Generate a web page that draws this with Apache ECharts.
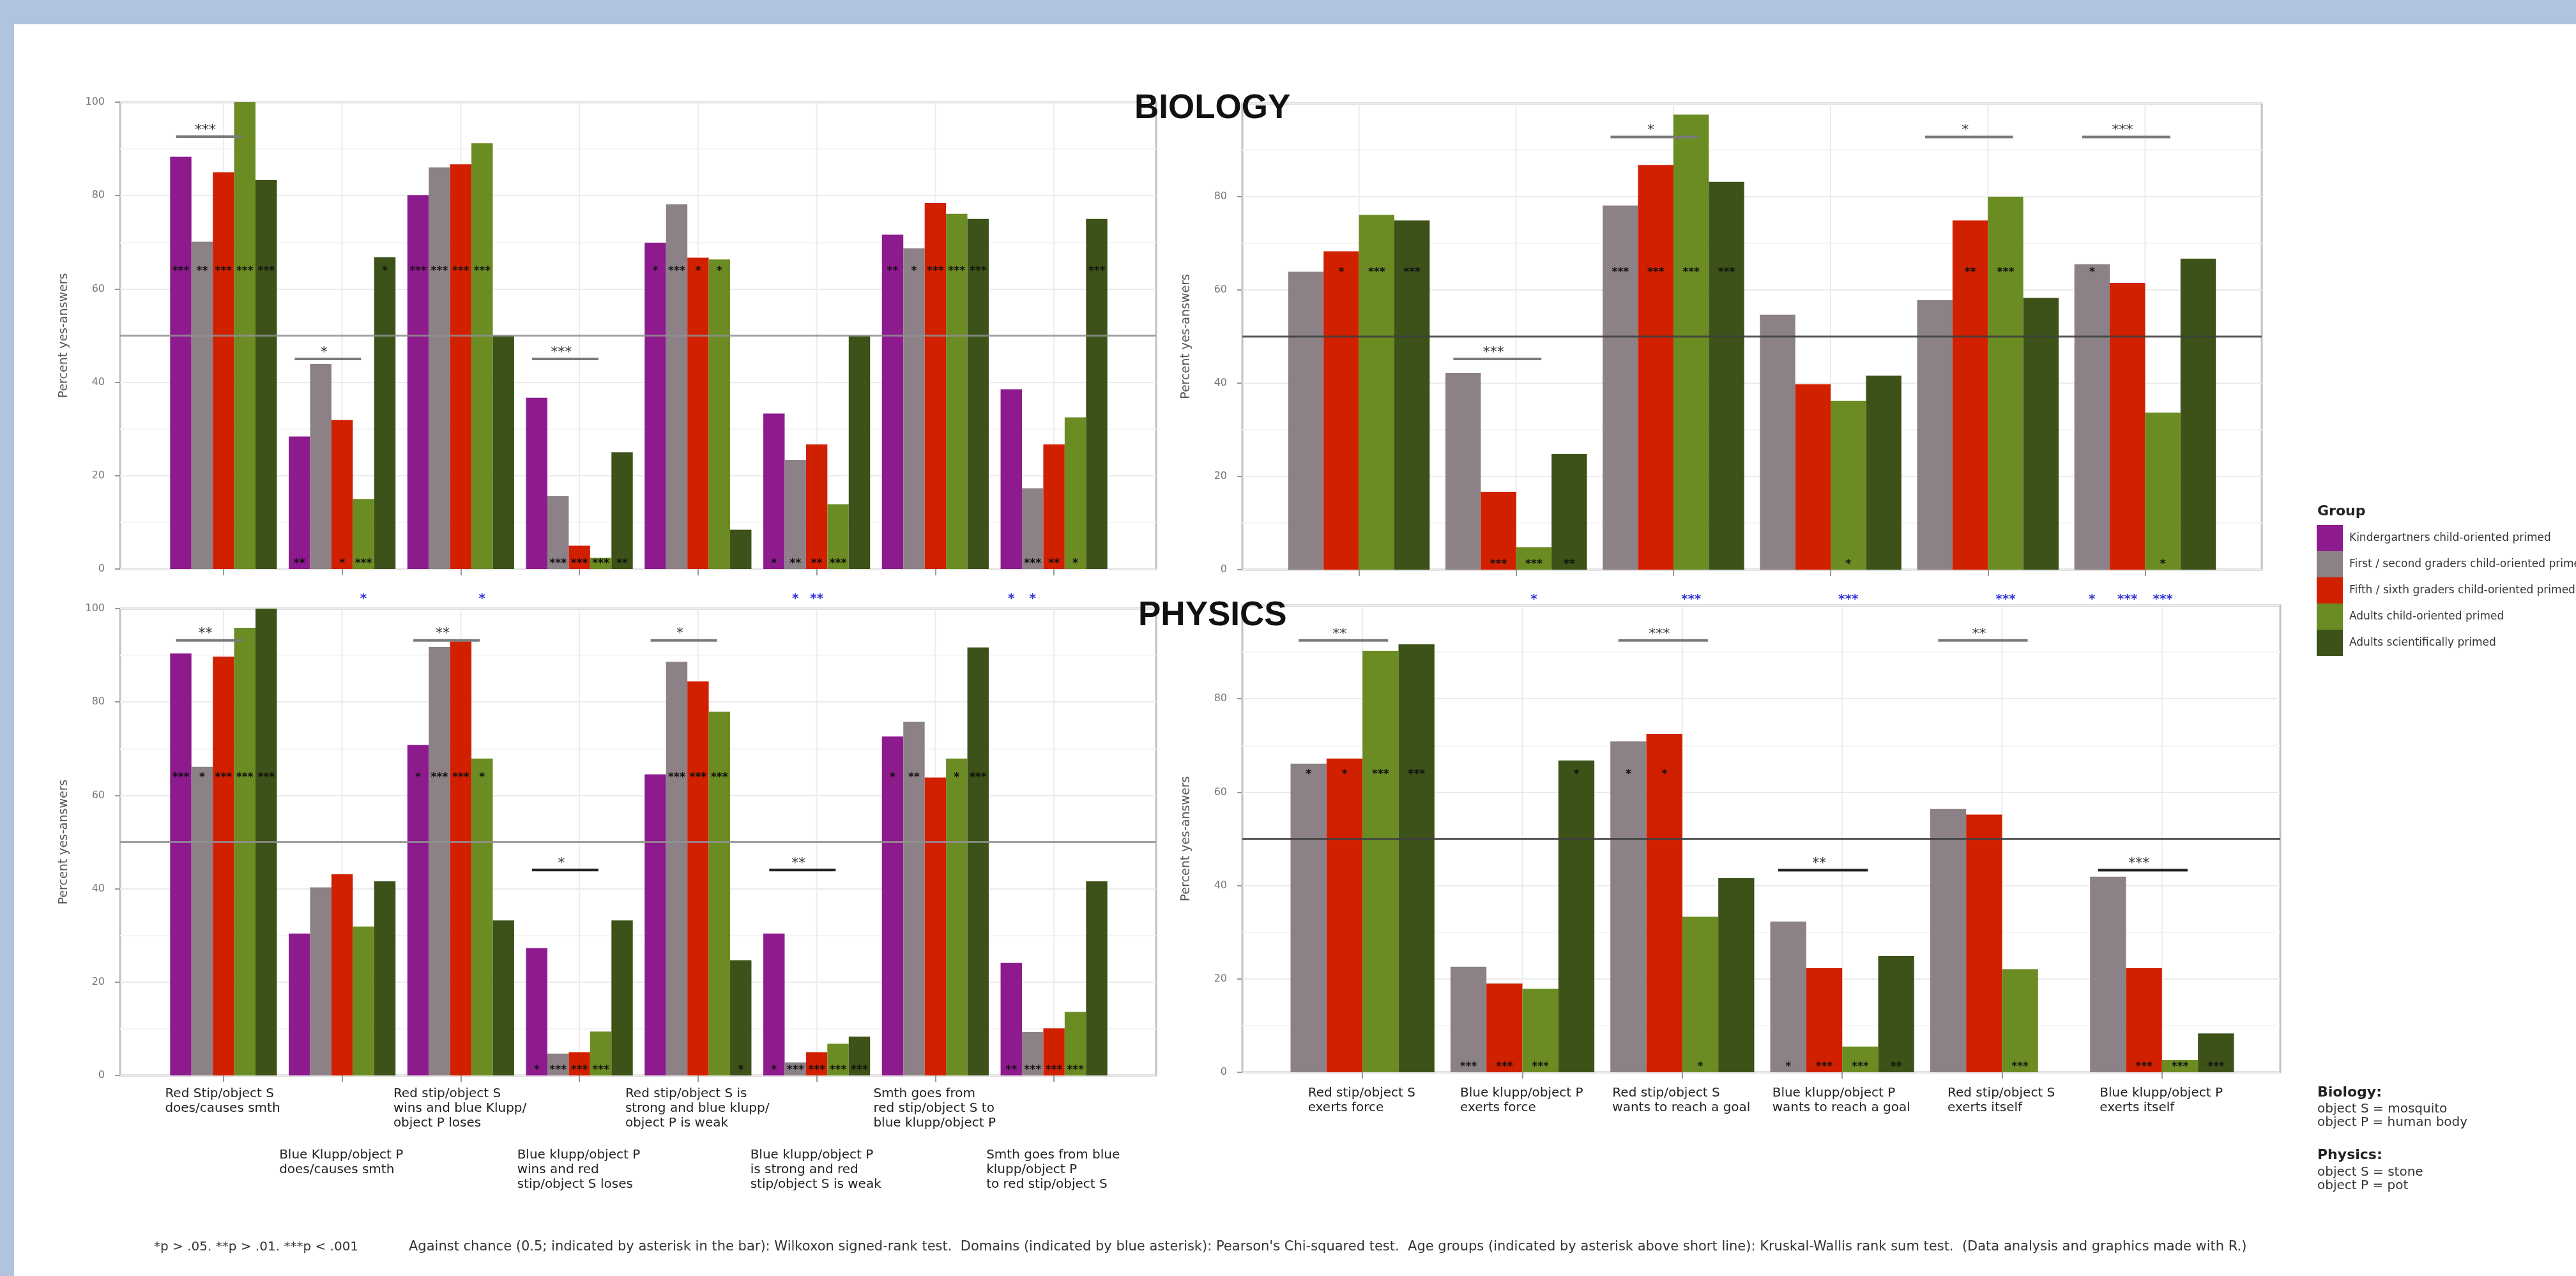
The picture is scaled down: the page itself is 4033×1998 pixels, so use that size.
<!DOCTYPE html>
<html>
<head>
<meta charset="utf-8">
<script src="https://cdn.jsdelivr.net/npm/echarts@6/dist/echarts.min.js"></script>
<style>
  html, body { margin: 0; padding: 0; background: #fff; overflow: hidden; }
  .band { position: absolute; background: #b0c4de; }
  #chart { position: absolute; left: 0; top: 0; width: 4033px; height: 1998px; z-index: 2; }
</style>
</head>
<body>
<div class="band" style="left:0;top:0;width:4033px;height:38px"></div>
<div class="band" style="left:0;top:0;width:22px;height:1998px"></div>
<div id="chart"></div>
<script>
// groups (legend order) and their colours
const groups = [
  'Kindergartners child-oriented primed',
  'First / second graders child-oriented primed',
  'Fifth / sixth graders child-oriented primed',
  'Adults child-oriented primed',
  'Adults scientifically primed',
]
const colors = ['#8e1b8e', '#8b8186', '#d12000', '#6b8c22', '#3c5218']

const leftCats = [
  'Red Stip/object S\ndoes/causes smth',
  'Blue Klupp/object P\ndoes/causes smth',
  'Red stip/object S\nwins and blue Klupp/\nobject P loses',
  'Blue klupp/object P\nwins and red\nstip/object S loses',
  'Red stip/object S is\nstrong and blue klupp/\nobject P is weak',
  'Blue klupp/object P\nis strong and red\nstip/object S is weak',
  'Smth goes from\nred stip/object S to\nblue klupp/object P',
  'Smth goes from blue\nklupp/object P\nto red stip/object S',
]
const rightCats = [
  'Red stip/object S\nexerts force',
  'Blue klupp/object P\nexerts force',
  'Red stip/object S\nwants to reach a goal',
  'Blue klupp/object P\nwants to reach a goal',
  'Red stip/object S\nexerts itself',
  'Blue klupp/object P\nexerts itself',
]
const yTicks = [0, 20, 40, 60, 80, 100]
const CHANCE = 50

// percent yes-answers, one row per group
const bioLeft = [
  [88.3, 28.4, 80.1, 36.7, 69.9, 33.3, 71.6, 38.5],
  [70.1, 43.9, 86.0, 15.6, 78.1, 23.4, 68.7, 17.3],
  [85.0, 31.9, 86.7, 5.0, 66.7, 26.7, 78.4, 26.7],
  [100, 15.0, 91.2, 2.4, 66.3, 13.9, 76.1, 32.5],
  [83.3, 66.8, 50.0, 25.0, 8.4, 50.0, 75.0, 75.0],
]
const bioRight = [
  [63.9, 42.2, 78.1, 54.7, 57.8, 65.5],
  [68.3, 16.7, 86.8, 39.8, 74.9, 61.5],
  [76.1, 4.8, 97.6, 36.2, 80.0, 33.7],
  [74.9, 24.8, 83.2, 41.6, 58.3, 66.7],
]
const phyLeft = [
  [90.4, 30.4, 70.8, 27.3, 64.5, 30.4, 72.6, 24.1],
  [66.1, 40.3, 91.8, 4.7, 88.6, 2.8, 75.8, 9.3],
  [89.7, 43.1, 93.0, 5.0, 84.4, 5.0, 63.8, 10.1],
  [95.9, 31.9, 67.9, 9.4, 77.9, 6.8, 67.9, 13.6],
  [100, 41.6, 33.2, 33.2, 24.7, 8.3, 91.7, 41.6],
]
const phyRight = [
  [66.1, 22.6, 70.9, 32.3, 56.4, 41.9],
  [67.2, 19.0, 72.5, 22.3, 55.2, 22.3],
  [90.3, 17.9, 33.3, 5.5, 22.1, 2.6],
  [91.7, 66.8, 41.6, 24.9, null, 8.3],
]

// Wilcoxon stars inside the bars
const bioLeftStars = [
  ['***', '**', '***', '', '*', '*', '**', ''],
  ['**', '', '***', '***', '***', '**', '*', '***'],
  ['***', '*', '***', '***', '*', '**', '***', '**'],
  ['***', '***', '***', '***', '*', '***', '***', '*'],
  ['***', '*', '', '**', '', '', '***', '***'],
]
const bioRightStars = [
  ['', '', '***', '', '', '*'],
  ['*', '***', '***', '', '**', ''],
  ['***', '***', '***', '*', '***', '*'],
  ['***', '**', '***', '', '', ''],
]
const phyLeftStars = [
  ['***', '', '*', '*', '', '*', '*', '**'],
  ['*', '', '***', '***', '***', '***', '**', '***'],
  ['***', '', '***', '***', '***', '***', '', '***'],
  ['***', '', '*', '***', '***', '***', '*', '***'],
  ['***', '', '', '', '*', '***', '***', ''],
]
const phyRightStars = [
  ['*', '***', '*', '*', '', ''],
  ['*', '***', '*', '***', '', '***'],
  ['***', '***', '*', '***', '***', '***'],
  ['***', '*', '', '**', '', '***'],
]

// Kruskal-Wallis lines: [category, level, stars]
const bioLeftKw = [[0, 92.6, '***'], [1, 45, '*'], [3, 45, '***']]
const bioRightKw = [[1, 45.2, '***'], [2, 92.8, '*'], [4, 92.8, '*'], [5, 92.8, '***']]
const phyLeftKw = [[0, 93.2, '**'], [2, 93.2, '**'], [3, 44, '*'], [4, 93.2, '*'], [5, 44, '**']]
const phyRightKw = [[0, 92.5, '**'], [2, 92.5, '***'], [3, 43.3, '**'], [4, 92.5, '**'], [5, 43.3, '***']]

// Chi-squared (blue) stars between the domains: [category, group slot, stars]
const bioLeftChi = [[1, 3, '*'], [2, 3, '*'], [5, 1, '*'], [5, 2, '**'], [7, 0, '*'], [7, 1, '*']]
const bioRightChi = [[1, 2, '*'], [2, 2, '***'], [3, 2, '***'], [4, 2, '***'], [5, 0, '*'], [5, 1, '***'], [5, 2, '***']]

const FONT = '"DejaVu Sans", sans-serif'
const ARIAL = '"Liberation Sans", Arial, sans-serif'
const STAR_HIGH = 64.5
const STAR_LOW = 1.9

const panels = [
  { frame: [188, 160, 1622, 731], inner: [257, 1486], cats: leftCats, ids: [0, 1, 2, 3, 4], vals: bioLeft, stars: bioLeftStars, kw: bioLeftKw, chi: bioLeftChi, show100: true, label: null, chance: '#909090', darkLow: false },
  { frame: [1945, 162, 1596, 730], inner: [2004.5, 1477], cats: rightCats, ids: [1, 2, 3, 4], vals: bioRight, stars: bioRightStars, kw: bioRightKw, chi: bioRightChi, show100: false, label: null, chance: '#3e3e3e', darkLow: false },
  { frame: [188, 953, 1622, 731], inner: [257, 1486], cats: leftCats, ids: [0, 1, 2, 3, 4], vals: phyLeft, stars: phyLeftStars, kw: phyLeftKw, chi: [], show100: true, label: { stagger: true, margin: 17 }, chance: '#909090', darkLow: true },
  { frame: [1945, 948, 1625, 731], inner: [2008, 1502], cats: rightCats, ids: [1, 2, 3, 4], vals: phyRight, stars: phyRightStars, kw: phyRightKw, chi: [], show100: false, label: { stagger: false, margin: 21 }, chance: '#3e3e3e', darkLow: true },
]

const ctx = document.createElement('canvas').getContext('2d')
ctx.font = '20px "DejaVu Sans"'

function xLabel(cats, opt) {
  if (!opt) return { show: false }
  const rich = { sp: { height: 96, lineHeight: 96, fontSize: 10 } }
  cats.forEach((c, i) => {
    const w = Math.ceil(Math.max(...c.split('\n').map((l) => ctx.measureText(l).width))) + 2
    rich['c' + i] = { width: w, align: 'left', fontFamily: FONT, fontSize: 20, lineHeight: 23, color: '#222' }
  })
  return {
    show: true,
    interval: 0,
    margin: opt.margin,
    formatter: (v, i) => (opt.stagger && i % 2 ? '{sp| }\n' : '') + v.split('\n').map((l) => '{c' + i + '|' + l + '}').join('\n'),
    rich,
  }
}

const grid = []
const xAxis = []
const yAxis = []
const series = []

panels.forEach((p, k) => {
  const fi = 2 * k
  const ii = 2 * k + 1
  const n = p.ids.length
  const [fl, ft, fw, fh] = p.frame

  // frame: border, y axis, horizontal grid lines
  grid.push({ left: fl, top: ft, width: fw, height: fh, show: true, borderColor: '#c2c2c2', borderWidth: 3, backgroundColor: 'rgba(0,0,0,0)', outerBoundsMode: 'none' })
  xAxis.push({ type: 'value', gridIndex: fi, min: 0, max: 1, show: false })
  yAxis.push({
    type: 'value', gridIndex: fi, min: yTicks[0], max: yTicks[yTicks.length - 1], interval: 20,
    axisLine: { show: false },
    axisTick: { show: true, length: 8, lineStyle: { color: '#9a9a9a', width: 2 } },
    axisLabel: { fontFamily: FONT, fontSize: 16, color: '#777', margin: 24, showMaxLabel: p.show100 },
    splitLine: { show: true, lineStyle: { color: '#ebebeb', width: 2 } },
    minorTick: { show: false, splitNumber: 2 },
    minorSplitLine: { show: true, lineStyle: { color: '#f5f5f5', width: 2 } },
    name: 'Percent yes-answers', nameLocation: 'middle', nameGap: 78, nameRotate: 90,
    nameTextStyle: { fontFamily: FONT, fontSize: 19, color: '#555' },
  })

  // inner: categories and bars
  grid.push({ left: p.inner[0], top: ft, width: p.inner[1], height: fh, outerBoundsMode: 'none' })
  xAxis.push({
    type: 'category', gridIndex: ii, data: p.cats,
    axisLine: { show: false },
    axisTick: { show: true, alignWithLabel: true, length: 10, lineStyle: { color: '#9a9a9a', width: 2 } },
    axisLabel: xLabel(p.cats, p.label),
    splitLine: { show: false },
  })
  yAxis.push({ type: 'value', gridIndex: ii, min: 0, max: 100, show: false })

  // vertical grid lines at the categories
  series.push({
    type: 'custom', xAxisIndex: ii, yAxisIndex: ii, z: 1, silent: true,
    data: p.cats.map((c, i) => [i, 0]),
    renderItem: (params, api) => {
      const a = api.coord([api.value(0), 0])
      const b = api.coord([api.value(0), 100])
      return { type: 'line', shape: { x1: a[0], y1: a[1], x2: b[0], y2: b[1] }, style: { stroke: '#ececec', lineWidth: 2 } }
    },
  })

  p.vals.forEach((row, g) => {
    const gid = p.ids[g]
    series.push({
      type: 'bar', name: groups[gid], xAxisIndex: ii, yAxisIndex: ii, z: 2,
      data: row, barCategoryGap: '10%', barGap: '0%',
      itemStyle: { color: colors[gid] },
    })
  })

  // chance line
  series.push({
    type: 'custom', xAxisIndex: fi, yAxisIndex: fi, z: 3, silent: true,
    data: [[0, CHANCE]],
    renderItem: (params, api) => {
      const a = api.coord([0, api.value(1)])
      const b = api.coord([1, api.value(1)])
      return { type: 'line', shape: { x1: a[0], y1: a[1], x2: b[0], y2: b[1] }, style: { stroke: p.chance, lineWidth: 3, opacity: 0.85 } }
    },
  })

  // stars inside the bars
  const starList = []
  p.vals.forEach((row, g) => row.forEach((v, c) => {
    const s = p.stars[g][c]
    if (s && v != null) starList.push({ c, g, s, y: v > CHANCE ? STAR_HIGH : STAR_LOW })
  }))
  series.push({
    type: 'custom', xAxisIndex: ii, yAxisIndex: ii, z: 4, silent: true, clip: false,
    data: starList.map((d) => [d.c, d.y]),
    renderItem: (params, api) => {
      const d = starList[params.dataIndex]
      const pt = api.coord([d.c, d.y])
      const bw = (api.size([1, 0])[0] * 0.9) / n
      return {
        type: 'text', x: pt[0] + (d.g - (n - 1) / 2) * bw, y: pt[1] + 5,
        style: { text: d.s, align: 'center', verticalAlign: 'middle', font: 'bold 17px "DejaVu Sans"', fill: '#111' },
      }
    },
  })

  // Kruskal-Wallis lines
  series.push({
    type: 'custom', xAxisIndex: ii, yAxisIndex: ii, z: 4, silent: true, clip: false,
    data: p.kw.map((d) => [d[0], d[1]]),
    renderItem: (params, api) => {
      const d = p.kw[params.dataIndex]
      const pt = api.coord([d[0], d[1]])
      const band = api.size([1, 0])[0]
      const x1 = pt[0] - 0.4 * band
      const x2 = pt[0] + 0.16 * band
      const col = p.darkLow && d[1] < CHANCE ? '#222' : '#7a7a7a'
      return {
        type: 'group',
        children: [
          { type: 'line', shape: { x1, y1: pt[1], x2, y2: pt[1] }, style: { stroke: col, lineWidth: 4 } },
          { type: 'text', x: (x1 + x2) / 2 - 6, y: pt[1] - 10, style: { text: d[2], align: 'center', verticalAlign: 'middle', font: '22px "DejaVu Sans"', fill: '#333' } },
        ],
      }
    },
  })

  // Chi-squared stars below the top panels
  if (p.chi.length) {
    series.push({
      type: 'custom', xAxisIndex: ii, yAxisIndex: ii, z: 4, silent: true, clip: false,
      data: p.chi.map((d) => [d[0], 0]),
      renderItem: (params, api) => {
        const d = p.chi[params.dataIndex]
        const pt = api.coord([d[0], 0])
        const bw = (api.size([1, 0])[0] * 0.9) / n
        return {
          type: 'text', x: pt[0] + (d[1] - (n - 1) / 2) * bw, y: pt[1] + 47,
          style: { text: d[2], align: 'center', verticalAlign: 'middle', font: 'bold 20px "DejaVu Sans"', fill: '#3535d8' },
        }
      },
    })
  }
})

const chart = echarts.init(document.getElementById('chart'))
chart.setOption({
  animation: false,
  title: [
    { text: 'BIOLOGY', left: 1776, top: 144, padding: 0, textStyle: { fontFamily: ARIAL, fontSize: 53, fontWeight: 'bold', color: '#111' } },
    { text: 'PHYSICS', left: 1782, top: 938, padding: 0, textStyle: { fontFamily: ARIAL, fontSize: 53, fontWeight: 'bold', color: '#111' } },
    { text: 'Group', left: 3628, top: 790, padding: 0, textStyle: { fontFamily: FONT, fontSize: 22, fontWeight: 'bold', color: '#222' } },
    { text: 'Biology:', left: 3628, top: 1700, padding: 0, textStyle: { fontFamily: FONT, fontSize: 22, fontWeight: 'bold', color: '#222' } },
    { text: 'object S = mosquito\nobject P = human body', left: 3628, top: 1726, padding: 0, textStyle: { fontFamily: FONT, fontSize: 20, lineHeight: 21, fontWeight: 'normal', color: '#333' } },
    { text: 'Physics:', left: 3628, top: 1798, padding: 0, textStyle: { fontFamily: FONT, fontSize: 22, fontWeight: 'bold', color: '#222' } },
    { text: 'object S = stone\nobject P = pot', left: 3628, top: 1825, padding: 0, textStyle: { fontFamily: FONT, fontSize: 20, lineHeight: 21, fontWeight: 'normal', color: '#333' } },
    { text: '*p > .05. **p > .01. ***p < .001', left: 241, top: 1943, padding: 0, textStyle: { fontFamily: FONT, fontSize: 20, fontWeight: 'normal', color: '#333' } },
    { text: "Against chance (0.5; indicated by asterisk in the bar): Wilkoxon signed-rank test.  Domains (indicated by blue asterisk): Pearson's Chi-squared test.  Age groups (indicated by asterisk above short line): Kruskal-Wallis rank sum test.  (Data analysis and graphics made with R.)", left: 640, top: 1942, padding: 0, textStyle: { fontFamily: FONT, fontSize: 21, fontWeight: 'normal', color: '#333' } },
  ],
  legend: {
    data: groups, orient: 'vertical', left: 3627, top: 822, padding: 0,
    icon: 'rect', itemWidth: 41, itemHeight: 41, itemGap: 0, selectedMode: false,
    textStyle: { fontFamily: FONT, fontSize: 17, color: '#333', padding: [0, 0, 0, 5] },
  },
  grid,
  xAxis,
  yAxis,
  series,
})
</script>
</body>
</html>
